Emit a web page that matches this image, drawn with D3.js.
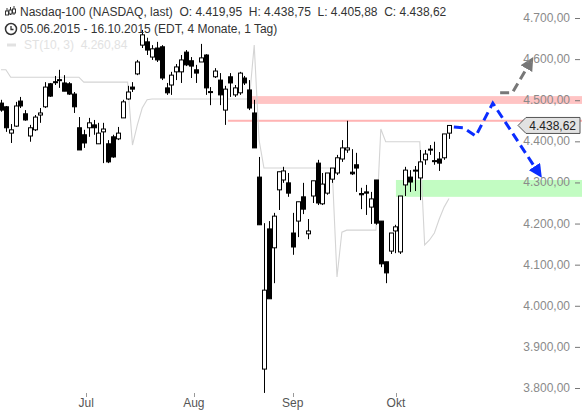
<!DOCTYPE html>
<html><head><meta charset="utf-8">
<script src="https://cdn.jsdelivr.net/npm/d3@7"></script>
<style>body{margin:0;background:#fff}svg{display:block;font-family:"Liberation Sans",Arial,sans-serif}</style>
</head><body><svg id="c" width="582" height="415"></svg>
<script>
// OHLC per trading day, 05.06.2015 - 16.10.2015
const opens  = [4493,4484,4420,4437,4498,4467,4413,4428,4464,4484,4540,4545,4550,4542,4540,4515,4433,4416,4433,4440,4394,4423,4394,4411,4406,4457,4503,4532,4564,4634,4642,4605,4627,4630,4530,4537,4569,4569,4617,4596,4574,4593,4610,4521,4557,4549,4476,4557,4513,4518,4554,4525,4469,4313,3846,4187,4141,4282,4306,4299,4177,4206,4265,4175,4267,4347,4248,4274,4308,4323,4357,4379,4325,4343,4273,4277,4240,4306,4206,4107,4133,4182,4131,4294,4313,4329,4311,4355,4381,4353,4357,4360,4419.95];
const highs  = [4501,4486,4442,4496,4508,4476,4440,4464,4481,4544,4542,4559,4574,4561,4544,4520,4459,4428,4457,4452,4445,4445,4403,4416,4435,4501,4535,4544,4598,4671,4652,4634,4642,4634,4542,4569,4588,4610,4622,4605,4586,4637,4612,4532,4578,4566,4535,4566,4537,4569,4559,4549,4501,4362,4201,4206,4226,4326,4338,4323,4226,4253,4299,4211,4304,4355,4323,4323,4335,4367,4403,4450,4381,4372,4287,4294,4277,4306,4206,4107,4177,4197,4267,4338,4330,4340,4379,4379,4391,4399,4374,4418,4438.75];
const lows   = [4472,4423,4396,4435,4481,4450,4399,4425,4445,4481,4508,4537,4530,4522,4513,4469,4379,4384,4411,4416,4394,4347,4347,4360,4403,4457,4501,4520,4561,4627,4610,4598,4593,4549,4513,4513,4549,4542,4583,4554,4542,4593,4513,4488,4554,4488,4440,4508,4508,4513,4537,4476,4384,4197,3788,4017,4055,4233,4299,4265,4124,4167,4223,4162,4250,4245,4245,4270,4299,4318,4350,4372,4318,4277,4235,4221,4199,4197,4094,4055,4126,4128,4126,4267,4277,4279,4257,4343,4367,4343,4328,4355,4405.88];
const closes = [4476,4433,4428,4486,4486,4452,4433,4459,4469,4532,4510,4543,4548,4522,4515,4484,4379,4396,4445,4433,4420,4430,4350,4362,4420,4496,4520,4527,4593,4659,4622,4625,4598,4554,4518,4561,4581,4598,4586,4583,4566,4603,4530,4519,4571,4513,4527,4542,4530,4566,4542,4481,4384,4197,4038,4017,4218,4326,4328,4274,4143,4253,4235,4182,4304,4250,4296,4323,4335,4360,4384,4384,4321,4335,4270,4274,4260,4201,4102,4080,4177,4192,4267,4330,4301,4330,4350,4369,4379,4352,4347,4418,4438.62];
// SuperTrend ST(10,3)
const stValues = [4574,4574,4556,4556,4556,4556,4556,4556,4556,4556,4556,4556,4556,4556,4556,4556,4556,4544,4544,4544,4544,4544,4544,4544,4544,4544,4544,4391,4440,4481,4501,4503,4503,4503,4503,4503,4503,4503,4503,4503,4503,4503,4503,4503,4503,4503,4503,4503,4503,4503,4503,4503,4634,4403,4335,4335,4335,4335,4335,4335,4335,4335,4335,4335,4335,4335,4335,4335,4335,4070,4179,4184,4184,4184,4184,4184,4184,4184,4430,4399,4399,4399,4399,4399,4399,4399,4399,4148,4160,4177,4211,4240,4260.84];
const yTicks = [3800,3900,4000,4100,4200,4300,4400,4500,4600,4700];
const monthLabels = ["Jul","Aug","Sep","Okt"];
const monthIdx = [17.5,39.6,59.9,81.1];
const resistBand = [4491,4510];
const resistLine = 4450;
const supportBand = [4265,4306];
const blueArrow = [[93,4435],[95,4433],[97.5,4413],[101,4493],[110.3,4325]];
const grayArrow = [[102.5,4518],[105,4518],[108.6,4591]];
const lastPrice = 4438.62;

const svg = d3.select("#c");
const n = closes.length;
const x = d3.scaleLinear().domain([0, n-1]).range([1, 449]);
const y = d3.scaleLinear().domain([3800, 4700]).range([388, 18]);
const fmt = v => d3.format(",.2f")(v).replace(/,/g,"X").replace(/\./g,",").replace(/X/g,".");

svg.append("rect").attr("x", x(51)).attr("width", 582 - x(51))
  .attr("y", y(resistBand[1])).attr("height", y(resistBand[0]) - y(resistBand[1])).attr("fill", "#ffc4c4");
svg.append("rect").attr("x", x(46.6)).attr("width", 582 - x(46.6))
  .attr("y", y(resistLine) - 1).attr("height", 2).attr("fill", "#ffb4b4");
svg.append("rect").attr("x", x(81.1)).attr("width", 582 - x(81.1))
  .attr("y", y(supportBand[1])).attr("height", y(supportBand[0]) - y(supportBand[1])).attr("fill", "#c2fcc2");

svg.append("path").datum(stValues)
  .attr("d", d3.line().x((d,i)=>x(i)).y(d=>y(d)))
  .attr("fill","none").attr("stroke","#d4d4d4").attr("stroke-width",1.1);

const g = svg.append("g");
for (let i = 0; i < n; i++) {
  const cx = Math.round(x(i)) + 0.5;
  g.append("line").attr("x1",cx).attr("x2",cx).attr("y1",y(highs[i])).attr("y2",y(lows[i]))
    .attr("stroke","#000").attr("stroke-width",1);
  const up = closes[i] >= opens[i];
  const top = y(Math.max(opens[i],closes[i])), bot = y(Math.min(opens[i],closes[i]));
  g.append("rect").attr("x",cx-2).attr("width",4).attr("y",top).attr("height",Math.max(1,bot-top))
    .attr("fill", up ? "#fff" : "#000").attr("stroke","#000").attr("stroke-width",1);
}

svg.append("defs").html(
 '<marker id="mb" viewBox="0 0 10 10" refX="5" refY="5" markerWidth="4.5" markerHeight="4.5" orient="auto"><path d="M0,0L10,5L0,10z" fill="#0a2cff"/></marker>'+
 '<marker id="mg" viewBox="0 0 10 10" refX="5" refY="5" markerWidth="4.5" markerHeight="4.5" orient="auto"><path d="M0,0L10,5L0,10z" fill="#777"/></marker>');
const al = d3.line().x(d=>x(d[0])).y(d=>y(d[1]));
svg.append("path").datum(grayArrow).attr("d",al).attr("fill","none").attr("stroke","#777")
  .attr("stroke-width",3).attr("stroke-dasharray","9,5").attr("marker-end","url(#mg)");
svg.append("path").datum(blueArrow).attr("d",al).attr("fill","none").attr("stroke","#0a2cff")
  .attr("stroke-width",3).attr("stroke-dasharray","9,5").attr("marker-end","url(#mb)");

const ya = svg.append("g");
yTicks.forEach(t => {
  ya.append("text").attr("x",570).attr("y",y(t)+4).attr("text-anchor","end")
    .attr("font-size",12).attr("fill","#8a8a8a").text(fmt(t));
  ya.append("line").attr("x1",575).attr("x2",580).attr("y1",y(t)+0.5).attr("y2",y(t)+0.5).attr("stroke","#777");
});
const ly = y(lastPrice);
svg.append("path").attr("d",`M518,${ly}L526,${ly-8}L580,${ly-8}L580,${ly+8}L526,${ly+8}Z`)
  .attr("fill","#e2e2e2").attr("stroke","#555");
svg.append("text").attr("x",576).attr("y",ly+4.5).attr("text-anchor","end").attr("font-size",12)
  .attr("fill","#222").text(fmt(lastPrice));

monthLabels.forEach((m,k) => {
  svg.append("text").attr("x",x(monthIdx[k])).attr("y",407).attr("text-anchor","middle")
    .attr("font-size",12).attr("fill","#555").text(m);
  svg.append("line").attr("x1",Math.round(x(monthIdx[k]))+0.5).attr("x2",Math.round(x(monthIdx[k]))+0.5)
    .attr("y1",393).attr("y2",397).attr("stroke","#999");
});

const h = svg.append("g").attr("font-size",12);
h.append("text").attr("x",20).attr("y",16).attr("fill","#333")
  .text("Nasdaq-100 (NASDAQ, last)  O: 4.419,95  H: 4.438,75  L: 4.405,88  C: 4.438,62").attr("xml:space","preserve");
h.append("text").attr("x",20).attr("y",33).attr("fill","#333").text("05.06.2015 - 16.10.2015 (EDT, 4 Monate, 1 Tag)");
h.append("text").attr("x",24).attr("y",49).attr("fill","#e2e2e2").attr("xml:space","preserve").text("ST(10, 3)  4.260,84");
const ic = svg.append("g").attr("stroke","#333").attr("fill","none");
[[7,8,15],[10.5,7,15],[14,6,15]].forEach(([cx,a,b])=>{
  ic.append("line").attr("x1",cx).attr("x2",cx).attr("y1",a).attr("y2",b);
  ic.append("rect").attr("x",cx-1.5).attr("y",a+3).attr("width",3).attr("height",4).attr("fill","#fff");
});
ic.append("circle").attr("cx",11).attr("cy",29).attr("r",5.5).attr("stroke-width",1.5);
ic.append("path").attr("d","M11,26V29.5H13.5").attr("stroke-width",1.3);
svg.append("line").attr("x1",7).attr("x2",16).attr("y1",45).attr("y2",45).attr("stroke","#e2e2e2").attr("stroke-width",3);
</script></body></html>
